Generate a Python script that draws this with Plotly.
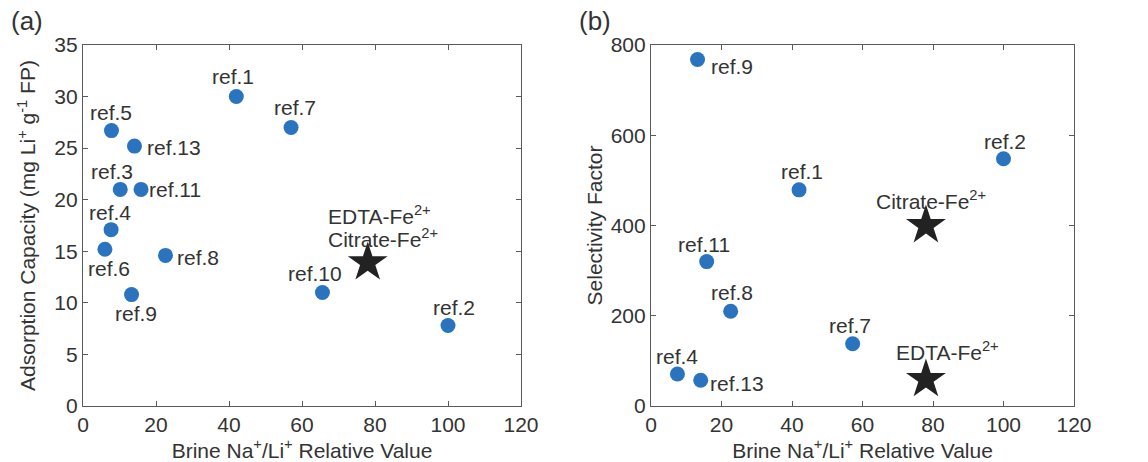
import plotly.graph_objects as go

# Panel (a): adsorption capacity vs brine Na+/Li+ ratio
a_labels = ["ref.1", "ref.7", "ref.5", "ref.13", "ref.3", "ref.11", "ref.4",
            "ref.6", "ref.8", "ref.9", "ref.10", "ref.2"]
a_ratio = [42, 57, 7.8, 14.1, 10.2, 15.9, 7.7, 6.0, 22.6, 13.3, 65.6, 100]
a_capacity = [30, 27, 26.7, 25.2, 21, 21, 17.1, 15.2, 14.6, 10.8, 11, 7.8]
a_star_names = ["EDTA-Fe<sup>2+</sup>", "Citrate-Fe<sup>2+</sup>"]
a_star_ratio = [78]
a_star_capacity = [13.9]

# Panel (b): selectivity factor vs brine Na+/Li+ ratio
b_labels = ["ref.9", "ref.2", "ref.1", "ref.11", "ref.8", "ref.7", "ref.4", "ref.13"]
b_ratio = [13.2, 100, 42, 15.8, 22.6, 57.2, 7.5, 14.1]
b_selectivity = [768, 548, 479, 320, 210, 138, 71, 57]
b_star_names = ["Citrate-Fe<sup>2+</sup>", "EDTA-Fe<sup>2+</sup>"]
b_star_ratio = [78, 78]
b_star_selectivity = [400, 59]

x_ticks = [0, 20, 40, 60, 80, 100, 120]
a_y_ticks = [0, 5, 10, 15, 20, 25, 30, 35]
b_y_ticks = [0, 200, 400, 600, 800]

BLUE = "#2a74bf"
TEXT = "#333333"
AXIS = "#5a5a5a"
FONT = "Liberation Sans, Arial, sans-serif"
W, H = 1148, 462
T, B = 45, 56
PLOT_H = H - T - B

# label placement (pixel offsets from each point, and anchor)
a_offsets = {
    "ref.1": (-3, 20, "center"), "ref.7": (4, 20, "center"),
    "ref.5": (0, 18, "center"), "ref.13": (11, -1, "left"),
    "ref.3": (-8, 18, "center"), "ref.11": (6, 0, "left"),
    "ref.4": (-1, 17, "center"), "ref.6": (4, -19, "center"),
    "ref.8": (10, -2, "left"), "ref.9": (4, -19, "center"),
    "ref.10": (-7, 19, "center"), "ref.2": (6, 18, "center"),
}
a_star_offsets = [(-42, 48), (-42, 25)]
b_offsets = {
    "ref.9": (11, -7, "left"), "ref.2": (2, 17, "center"),
    "ref.1": (3, 18, "center"), "ref.11": (-3, 17, "center"),
    "ref.8": (1, 19, "center"), "ref.7": (-3, 18, "center"),
    "ref.4": (0, 17, "center"), "ref.13": (7, -3, "left"),
}
b_star_offsets = [(5, 26), (22, 28)]

fig = go.Figure()

fig.add_trace(go.Scatter(x=a_ratio, y=a_capacity, mode="markers",
                         marker=dict(color=BLUE, size=15, line=dict(width=0)),
                         xaxis="x", yaxis="y", showlegend=False))
fig.add_trace(go.Scatter(x=a_star_ratio, y=a_star_capacity, mode="markers",
                         marker=dict(color="#222222", size=30, symbol="star",
                                     line=dict(width=0)),
                         xaxis="x", yaxis="y", showlegend=False))
fig.add_trace(go.Scatter(x=b_ratio, y=b_selectivity, mode="markers",
                         marker=dict(color=BLUE, size=15, line=dict(width=0)),
                         xaxis="x2", yaxis="y2", showlegend=False))
fig.add_trace(go.Scatter(x=b_star_ratio, y=b_star_selectivity, mode="markers",
                         marker=dict(color="#222222", size=30, symbol="star",
                                     line=dict(width=0)),
                         xaxis="x2", yaxis="y2", showlegend=False))

annotations = []
tfont = dict(family=FONT, size=21, color=TEXT)
for name, x, y in zip(a_labels, a_ratio, a_capacity):
    dx, dy, anc = a_offsets[name]
    annotations.append(dict(x=x, y=y, xref="x", yref="y", text=name,
                            showarrow=False, xanchor=anc, yanchor="middle",
                            xshift=dx, yshift=dy, font=tfont))
for name, (dx, dy) in zip(a_star_names, a_star_offsets):
    annotations.append(dict(x=a_star_ratio[0], y=a_star_capacity[0], xref="x", yref="y",
                            text=name, showarrow=False, xanchor="left",
                            yanchor="middle", xshift=dx, yshift=dy, font=tfont))
for name, x, y in zip(b_labels, b_ratio, b_selectivity):
    dx, dy, anc = b_offsets[name]
    annotations.append(dict(x=x, y=y, xref="x2", yref="y2", text=name,
                            showarrow=False, xanchor=anc, yanchor="middle",
                            xshift=dx, yshift=dy, font=tfont))
for name, x, y, (dx, dy) in zip(b_star_names, b_star_ratio, b_star_selectivity,
                                b_star_offsets):
    annotations.append(dict(x=x, y=y, xref="x2", yref="y2", text=name,
                            showarrow=False, xanchor="center", yanchor="middle",
                            xshift=dx, yshift=dy, font=tfont))

# panel letters, placed in the top margin
for letter, px in [("(a)", 9), ("(b)", 577)]:
    annotations.append(dict(x=px / W, y=1 + (T - 4) / PLOT_H, xref="paper",
                            yref="paper", text=letter, showarrow=False,
                            xanchor="left", yanchor="top",
                            font=dict(family=FONT, size=26, color=TEXT)))

fig.update_layout(annotations=annotations)

axis_common = dict(showline=True, linecolor=AXIS, linewidth=1.2, mirror="ticks",
                   ticks="inside", ticklen=5, tickcolor=AXIS, tickwidth=1.2,
                   showgrid=False, zeroline=False, automargin=False,
                   tickfont=dict(family=FONT, size=21, color=TEXT))
title_font = dict(family=FONT, size=21, color=TEXT)

fig.update_layout(
    width=W, height=H,
    margin=dict(l=0, r=0, t=T, b=B, autoexpand=False),
    paper_bgcolor="white", plot_bgcolor="white",
    xaxis=dict(domain=[83 / W, 521 / W], range=[0, 120], tickvals=x_ticks,
               title=dict(text="Brine Na<sup>+</sup>/Li<sup>+</sup> Relative Value",
                          font=title_font, standoff=6),
               anchor="y", **axis_common),
    yaxis=dict(domain=[0, 1], range=[0, 35], tickvals=a_y_ticks,
               title=dict(text="Adsorption Capacity (mg Li<sup>+</sup> g<sup>-1</sup> FP)",
                          font=title_font, standoff=12),
               anchor="x", **axis_common),
    xaxis2=dict(domain=[651 / W, 1074 / W], range=[0, 120], tickvals=x_ticks,
                title=dict(text="Brine Na<sup>+</sup>/Li<sup>+</sup> Relative Value",
                           font=title_font, standoff=6),
                anchor="y2", **axis_common),
    yaxis2=dict(domain=[0, 1], range=[0, 800], tickvals=b_y_ticks,
                title=dict(text="Selectivity Factor", font=title_font, standoff=2),
                anchor="x2", **axis_common),
)

fig.write_html("out.html")
